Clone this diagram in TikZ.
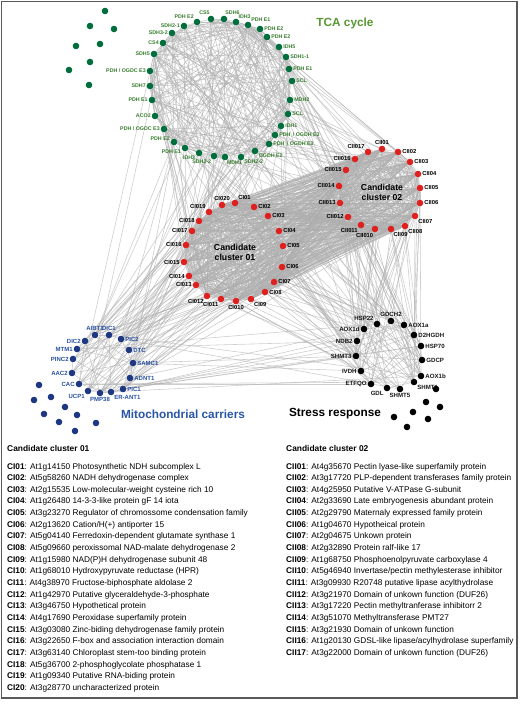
\documentclass[tikz,border=0pt]{standalone}
\usepackage{fontspec}
\setmainfont{Liberation Sans}
\usetikzlibrary{backgrounds}
\definecolor{tcadot}{RGB}{0,110,60}
\definecolor{tcalbl}{RGB}{55,125,45}
\definecolor{tcatitle}{RGB}{90,150,50}
\definecolor{cldot}{RGB}{222,32,30}
\definecolor{mdot}{RGB}{30,55,130}
\definecolor{mlbl}{RGB}{40,80,160}
\definecolor{mtitle}{RGB}{40,85,165}
\newcommand\netnode[7]{\node[nd=#2,label={[name=#1l,#3]#6:#7}] (#1) at (#4,#5) {};}
\newcommand\rlink[3]{\pgfmathtruncatemacro\rlok{rnd<#3?1:0}\ifnum\rlok=1 \draw[lnk] (#1) -- (#2);\fi}
\newcommand\legitem[4]{\node[leg,anchor=base west] (#1) at #2 {\textbf{#3}: #4};}
\begin{document}
\begin{tikzpicture}[x=1pt,y=-1pt,
  nd/.style={circle,inner sep=0pt,minimum size=6.6pt,fill=#1},
  lnk/.style={draw=black!32,draw opacity=0.6,line width=0.6pt},
  tl/.style={font=\fontsize{5.3}{6}\selectfont\bfseries,text=tcalbl,inner sep=0.6pt},
  cl/.style={font=\fontsize{5.8}{6}\selectfont\bfseries,text=black,inner sep=0.7pt},
  ml/.style={font=\fontsize{6}{7}\selectfont\bfseries,text=mlbl,inner sep=0.7pt},
  sl/.style={font=\fontsize{6.1}{7}\selectfont\bfseries,text=black!90,inner sep=0.7pt},
  grp/.style={font=\fontsize{8.7}{10}\selectfont\bfseries,align=center,inner sep=0pt},
  ttl/.style={font=\fontsize{11.8}{13}\selectfont\bfseries,inner sep=0pt},
  leg/.style={font=\fontsize{8.3}{9}\selectfont,inner sep=0pt},
  legh/.style={font=\fontsize{8.4}{9}\selectfont\bfseries,inner sep=0pt}]
\useasboundingbox (0,0) rectangle (520,704);
\draw[line width=1.5pt,black!65] (1.5,1.5) rectangle (517,698);

% ---- TCA cycle ----
\netnode{t1}{tcadot}{tl}{184}{26}{left}{SDH2-1}
\netnode{t2}{tcadot}{tl}{197}{22}{135}{PDH E2}
\netnode{t3}{tcadot}{tl}{211}{19}{100}{CS5}
\netnode{t4}{tcadot}{tl}{224}{19}{80}{SDH6}
\netnode{t5}{tcadot}{tl}{236}{22}{60}{IDH3}
\netnode{t6}{tcadot}{tl}{248}{25}{above right}{PDH E1}
\netnode{t7}{tcadot}{tl}{260}{29}{right}{PDH E2}
\netnode{t8}{tcadot}{tl}{267}{37}{right}{PDH E2}
\netnode{t9}{tcadot}{tl}{279}{47}{right}{IDH5}
\netnode{t10}{tcadot}{tl}{286}{57}{right}{SDH1-1}
\netnode{t11}{tcadot}{tl}{289}{69}{right}{PDH E1}
\netnode{t12}{tcadot}{tl}{292}{81}{right}{SCL}
\netnode{t13}{tcadot}{tl}{290}{100}{right}{MDH2}
\netnode{t14}{tcadot}{tl}{288}{114}{right}{SCL}
\netnode{t15}{tcadot}{tl}{281}{126}{right}{IDH1}
\netnode{t16}{tcadot}{tl}{275}{135}{right}{PDH \,/ OGDH E3}
\netnode{t17}{tcadot}{tl}{269}{144}{right}{PDH \,/ OGDH E3}
\netnode{t18}{tcadot}{tl}{255}{151}{-30}{OGDH E2}
\netnode{t19}{tcadot}{tl}{241}{157}{-45}{SDH2-2}
\netnode{t20}{tcadot}{tl}{225}{157}{-70}{MDH1}
\netnode{t21}{tcadot}{tl}{214}{156}{-125}{SDH2-2}
\netnode{t22}{tcadot}{tl}{199}{153}{-150}{IDH2}
\netnode{t23}{tcadot}{tl}{185}{148}{-160}{PDH E1}
\netnode{t24}{tcadot}{tl}{174}{142}{170}{PDH E2}
\netnode{t25}{tcadot}{tl}{164}{129}{left}{PDH / OGDC E3}
\netnode{t26}{tcadot}{tl}{155}{116}{left}{ACO2}
\netnode{t27}{tcadot}{tl}{152}{100}{left}{PDH E1}
\netnode{t28}{tcadot}{tl}{150}{86}{left}{SDH7}
\netnode{t29}{tcadot}{tl}{150}{71}{left}{PDH / OGDC E3}
\netnode{t30}{tcadot}{tl}{154}{54}{left}{SDH5}
\netnode{t31}{tcadot}{tl}{163}{43}{left}{CS4}
\netnode{t32}{tcadot}{tl}{172}{33}{left}{SDH3-2}
\node[nd=tcadot] (ti1) at (105,11) {};
\node[nd=tcadot] (ti2) at (90,26) {};
\node[nd=tcadot] (ti3) at (114,29) {};
\node[nd=tcadot] (ti4) at (76,46) {};
\node[nd=tcadot] (ti5) at (100,44) {};
\node[nd=tcadot] (ti6) at (90,62) {};
\node[nd=tcadot] (ti7) at (69,70) {};
\node[nd=tcadot] (ti8) at (89,85) {};
\node[ttl,text=tcatitle] (tcat) at (345,23) {TCA cycle};

% ---- Candidate cluster 01 ----
\netnode{a1}{cldot}{cl}{235}{203}{above right}{CI01}
\netnode{a2}{cldot}{cl}{254}{207}{right}{CI02}
\netnode{a3}{cldot}{cl}{268}{216}{right}{CI03}
\netnode{a4}{cldot}{cl}{279}{231}{right}{CI04}
\netnode{a5}{cldot}{cl}{283}{246}{right}{CI05}
\netnode{a6}{cldot}{cl}{282}{267}{right}{CI06}
\netnode{a7}{cldot}{cl}{274}{282}{right}{CI07}
\netnode{a8}{cldot}{cl}{265}{292}{right}{CI08}
\netnode{a9}{cldot}{cl}{251}{299}{-50}{CI09}
\netnode{a10}{cldot}{cl}{236}{301}{below}{CI010}
\netnode{a11}{cldot}{cl}{221}{299}{-120}{CI011}
\netnode{a12}{cldot}{cl}{207}{296}{below left}{CI012}
\netnode{a13}{cldot}{cl}{196}{285}{left}{CI013}
\netnode{a14}{cldot}{cl}{189}{276}{left}{CI014}
\netnode{a15}{cldot}{cl}{184}{262}{left}{CI015}
\netnode{a16}{cldot}{cl}{186}{245}{left}{CI016}
\netnode{a17}{cldot}{cl}{192}{231}{left}{CI017}
\netnode{a18}{cldot}{cl}{199}{221}{left}{CI018}
\netnode{a19}{cldot}{cl}{209}{212}{above left}{CI019}
\netnode{a20}{cldot}{cl}{222}{205}{above}{CI020}
\node[grp] (c1t) at (235,252) {Candidate\\cluster 01};

% ---- Candidate cluster 02 ----
\netnode{b1}{cldot}{cl}{382}{149}{above}{CII01}
\netnode{b2}{cldot}{cl}{398}{152}{right}{CII02}
\netnode{b3}{cldot}{cl}{410}{162}{right}{CII03}
\netnode{b4}{cldot}{cl}{418}{174}{right}{CII04}
\netnode{b5}{cldot}{cl}{420}{188}{right}{CII05}
\netnode{b6}{cldot}{cl}{420}{203}{right}{CII06}
\netnode{b7}{cldot}{cl}{415}{216}{below right}{CII07}
\netnode{b8}{cldot}{cl}{405}{226}{below right}{CII08}
\netnode{b9}{cldot}{cl}{391}{229}{-60}{CII09}
\netnode{b10}{cldot}{cl}{375}{229}{-105}{CII010}
\netnode{b11}{cldot}{cl}{361}{225}{below left}{CII011}
\netnode{b12}{cldot}{cl}{348}{217}{left}{CII012}
\netnode{b13}{cldot}{cl}{340}{203}{left}{CII013}
\netnode{b14}{cldot}{cl}{339}{186}{left}{CII014}
\netnode{b15}{cldot}{cl}{346}{170}{left}{CII015}
\netnode{b16}{cldot}{cl}{355}{159}{left}{CII016}
\netnode{b17}{cldot}{cl}{368}{152}{above left}{CII017}
\node[grp] (c2t) at (382,192) {Candidate\\cluster 02};

% ---- Mitochondrial carriers ----
\netnode{m1}{mdot}{ml}{95}{335}{above}{AIBT1}
\netnode{m2}{mdot}{ml}{109}{335}{above}{DIC1}
\netnode{m3}{mdot}{ml}{121}{339}{right}{PIC2}
\netnode{m4}{mdot}{ml}{129}{350}{right}{DTC}
\netnode{m5}{mdot}{ml}{133}{363}{right}{SAMC1}
\netnode{m6}{mdot}{ml}{130}{378}{right}{ADNT1}
\netnode{m7}{mdot}{ml}{123}{389}{right}{PIC1}
\netnode{m8}{mdot}{ml}{111}{392}{below right}{ER-ANT1}
\netnode{m9}{mdot}{ml}{100}{393}{below}{PMP38}
\netnode{m10}{mdot}{ml}{88}{391}{below left}{UCP1}
\netnode{m11}{mdot}{ml}{79}{384}{left}{CAC}
\netnode{m12}{mdot}{ml}{72}{373}{left}{AAC2}
\netnode{m13}{mdot}{ml}{73}{359}{left}{PINC2}
\netnode{m14}{mdot}{ml}{77}{349}{left}{MTM1}
\netnode{m15}{mdot}{ml}{85}{341}{left}{DIC2}
\node[nd=mdot] (mi1) at (39,385) {};
\node[nd=mdot] (mi2) at (34,400) {};
\node[nd=mdot] (mi3) at (51,397) {};
\node[nd=mdot] (mi4) at (65,407) {};
\node[nd=mdot] (mi5) at (44,414) {};
\node[nd=mdot] (mi6) at (77,415) {};
\node[nd=mdot] (mi7) at (59,422) {};
\node[nd=mdot] (mi8) at (96,423) {};
\node[nd=mdot] (mi9) at (75,431) {};
\node[ttl,text=mtitle] (mt) at (183,414) {Mitochondrial carriers};

% ---- Stress response ----
\netnode{s1}{black}{sl}{377}{324}{above left}{HSP22}
\netnode{s2}{black}{sl}{391}{321}{above}{GDCH2}
\netnode{s3}{black}{sl}{404}{325}{right}{AOX1a}
\netnode{s4}{black}{sl}{414}{335}{right}{D2HGDH}
\netnode{s5}{black}{sl}{421}{346}{right}{HSP70}
\netnode{s6}{black}{sl}{422}{360}{right}{GDCP}
\netnode{s7}{black}{sl}{421}{376}{right}{AOX1b}
\netnode{s8}{black}{sl}{414}{382}{below right}{SHMT1}
\netnode{s9}{black}{sl}{400}{389}{below}{SHMT5}
\netnode{s10}{black}{sl}{387}{388}{below left}{GDL}
\netnode{s11}{black}{sl}{371}{384}{left}{ETFQO}
\netnode{s12}{black}{sl}{361}{371}{left}{IVDH}
\netnode{s13}{black}{sl}{356}{356}{left}{SHMT3}
\netnode{s14}{black}{sl}{357}{341}{left}{NDB2}
\netnode{s15}{black}{sl}{364}{329}{left}{AOX1d}
\node[nd=black] (si1) at (436,389) {};
\node[nd=black] (si2) at (426,402) {};
\node[nd=black] (si3) at (440,407) {};
\node[nd=black] (si4) at (413,412) {};
\node[nd=black] (si5) at (394,417) {};
\node[nd=black] (si6) at (428,419) {};
\node[nd=black] (si7) at (407,427) {};
\node[ttl,text=black] (st) at (335,414) {Stress response};

% ---- connectors ----
\pgfmathsetseed{4711}
\begin{scope}[on background layer]
\foreach \i in {1,...,32}{\foreach \j in {\i,...,32}{\ifnum\i<\j\relax\rlink{t\i}{t\j}{0.4}\fi}}
\foreach \i in {1,...,20}{\foreach \j in {\i,...,20}{\ifnum\i<\j\relax\draw[lnk] (a\i) -- (a\j);\fi}}
\foreach \i in {1,...,17}{\foreach \j in {\i,...,17}{\ifnum\i<\j\relax\draw[lnk] (b\i) -- (b\j);\fi}}
\foreach \i in {1,...,20}{\foreach \j in {1,...,17}{\draw[lnk] (a\i) -- (b\j);}}
\foreach \i in {1,...,32}{\foreach \j in {1,...,20}{\rlink{t\i}{a\j}{0.07}}}
\foreach \i in {1,...,32}{\foreach \j in {1,...,17}{\rlink{t\i}{b\j}{0.07}}}
\foreach \i in {1,...,15}{\foreach \j in {1,...,20}{\rlink{m\i}{a\j}{0.12}}}
\foreach \i in {1,...,15}{\foreach \j in {1,...,17}{\rlink{m\i}{b\j}{0.08}}}
\foreach \i in {1,...,15}{\foreach \j in {1,...,32}{\rlink{m\i}{t\j}{0.06}}}
\foreach \i in {1,...,15}{\foreach \j in {1,...,15}{\rlink{m\i}{s\j}{0.1}}}
\foreach \i in {1,...,15}{\foreach \j in {1,...,17}{\rlink{s\i}{b\j}{0.18}}}
\foreach \i in {1,...,15}{\foreach \j in {1,...,20}{\rlink{s\i}{a\j}{0.1}}}
\foreach \i in {1,...,15}{\foreach \j in {1,...,32}{\rlink{s\i}{t\j}{0.05}}}
\foreach \i in {1,...,15}{\foreach \j in {\i,...,15}{\ifnum\i<\j\relax\rlink{s\i}{s\j}{0.3}\fi}}
\foreach \i in {1,...,15}{\foreach \j in {\i,...,15}{\ifnum\i<\j\relax\rlink{m\i}{m\j}{0.2}\fi}}
\end{scope}

% ---- legend ----
\node[legh,anchor=base west] (h1) at (7,451) {Candidate cluster 01};
\node[legh,anchor=base west] (h2) at (286,451) {Candidate cluster 02};
\legitem{l1}{(7,469)}{CI01}{At1g14150 Photosynthetic NDH subcomplex L}
\legitem{l2}{(7,480.65)}{CI02}{At5g58260 NADH dehydrogenase complex}
\legitem{l3}{(7,492.3)}{CI03}{At2g15535 Low-molecular-weight cysteine rich 10}
\legitem{l4}{(7,503.95)}{CI04}{At1g26480 14-3-3-like protein gF 14 iota}
\legitem{l5}{(7,515.6)}{CI05}{At3g23270 Regulator of chromossome condensation family}
\legitem{l6}{(7,527.25)}{CI06}{At2g13620 Cation/H(+) antiporter 15}
\legitem{l7}{(7,538.9)}{CI07}{At5g04140 Ferredoxin-dependent glutamate synthase 1}
\legitem{l8}{(7,550.55)}{CI08}{At5g09660 peroxissomal NAD-malate dehydrogenase 2}
\legitem{l9}{(7,562.2)}{CI09}{At1g15980 NAD(P)H dehydrogenase subunit 48}
\legitem{l10}{(7,573.85)}{CI10}{At1g68010 Hydroxypyruvate reductase (HPR)}
\legitem{l11}{(7,585.5)}{CI11}{At4g38970 Fructose-biphosphate aldolase 2}
\legitem{l12}{(7,597.15)}{CI12}{At1g42970 Putative glyceraldehyde-3-phosphate}
\legitem{l13}{(7,608.8)}{CI13}{At3g46750 Hypothetical protein}
\legitem{l14}{(7,620.45)}{CI14}{At4g17690 Peroxidase superfamily protein}
\legitem{l15}{(7,632.1)}{CI15}{At3g03080 Zinc-biding dehydrogenase family protein}
\legitem{l16}{(7,643.75)}{CI16}{At3g22650 F-box and association interaction domain}
\legitem{l17}{(7,655.4)}{CI17}{At3g63140 Chloroplast stem-too binding protein}
\legitem{l18}{(7,667.05)}{CI18}{At5g36700 2-phosphoglycolate phosphatase 1}
\legitem{l19}{(7,678.7)}{CI19}{At1g09340 Putative RNA-biding protein}
\legitem{l20}{(7,690.35)}{CI20}{At3g28770 uncharacterized protein}
\legitem{r1}{(286,469)}{CII01}{At4g35670 Pectin lyase-like superfamily protein}
\legitem{r2}{(286,480.65)}{CII02}{At3g17720 PLP-dependent transferases family protein}
\legitem{r3}{(286,492.3)}{CII03}{At4g25950 Putative V-ATPase G-subunit}
\legitem{r4}{(286,503.95)}{CII04}{At2g33690 Late embryogenesis abundant protein}
\legitem{r5}{(286,515.6)}{CII05}{At2g29790 Maternaly expressed family protein}
\legitem{r6}{(286,527.25)}{CII06}{At1g04670 Hypotheical protein}
\legitem{r7}{(286,538.9)}{CII07}{At2g04675 Unkown protein}
\legitem{r8}{(286,550.55)}{CII08}{At2g32890 Protein ralf-like 17}
\legitem{r9}{(286,562.2)}{CII09}{At1g68750 Phosphoenolpyruvate carboxylase 4}
\legitem{r10}{(286,573.85)}{CII10}{At5g46940 Invertase/pectin methylesterase inhibitor}
\legitem{r11}{(286,585.5)}{CII11}{At3g09930 R20748 putative lipase acylthydrolase}
\legitem{r12}{(286,597.15)}{CII12}{At3g21970 Domain of unkown function (DUF26)}
\legitem{r13}{(286,608.8)}{CII13}{At3g17220 Pectin methyltranferase inhibitorr 2}
\legitem{r14}{(286,620.45)}{CII14}{At3g51070 Methyltransferase PMT27}
\legitem{r15}{(286,632.1)}{CII15}{At3g21930 Domain of unkown function}
\legitem{r16}{(286,643.75)}{CII16}{At1g20130 GDSL-like lipase/acylhydrolase superfamily}
\legitem{r17}{(286,655.4)}{CII17}{At3g22000 Domain of unkown function (DUF26)}
\end{tikzpicture}
\end{document}
